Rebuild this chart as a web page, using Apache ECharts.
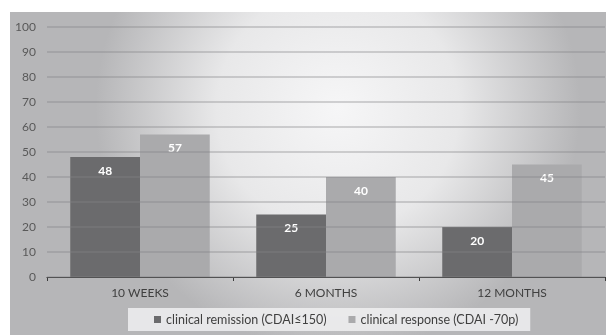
<!DOCTYPE html>
<html>
<head>
<meta charset="utf-8">
<style>
  html, body { margin: 0; padding: 0; background: #ffffff; }
  #chart { width: 606px; height: 335px; }
</style>
<script src="https://cdn.jsdelivr.net/npm/echarts@6/dist/echarts.min.js"></script>
</head>
<body>
<div id="chart"></div>
<script>
// Time points and percentages of patients for each outcome
const categories = ['10 WEEKS', '6 MONTHS', '12 MONTHS'];
const remission = [48, 25, 20];
const response = [57, 40, 45];
const seriesNames = ['clinical remission (CDAI≤150)', 'clinical response (CDAI -70p)'];
const yTicks = { min: 0, max: 100, interval: 10 };

const FONT = 'Lato, "Open Sans", sans-serif';

const chart = echarts.init(document.getElementById('chart'), null, { renderer: 'canvas' });

const barLabel = {
  show: true,
  position: 'insideTop',
  distance: 8,
  color: '#ffffff',
  fontWeight: 'bold',
  fontSize: 12,
  fontFamily: FONT
};

chart.setOption({
  animation: false,
  textStyle: { fontFamily: FONT },
  graphic: [{
    type: 'rect',
    z: -10,
    silent: true,
    shape: { x: 10, y: 12, width: 596, height: 323 },
    style: {
      fill: {
        type: 'radial',
        x: 0.55, y: 0.3, r: 0.75,
        colorStops: [
          { offset: 0, color: '#f6f6f7' },
          { offset: 0.5, color: '#e8e8e9' },
          { offset: 1, color: '#b6b6b8' }
        ]
      }
    }
  }],
  grid: { left: 47, right: 1, top: 27, bottom: 58, containLabel: false },
  legend: {
    data: seriesNames,
    left: 128,
    top: 308,
    width: 380,
    padding: [5, 12, 5, 26],
    backgroundColor: 'rgba(240,240,241,0.85)',
    itemWidth: 7,
    itemHeight: 7,
    itemGap: 22,
    icon: 'rect',
    textStyle: { color: '#404040', fontSize: 12.5, fontFamily: FONT }
  },
  xAxis: {
    type: 'category',
    data: categories,
    axisLine: { lineStyle: { color: '#3a3a3a', width: 1.2 } },
    axisTick: { show: true, alignWithLabel: false, length: 4, lineStyle: { color: '#3a3a3a' } },
    axisLabel: { color: '#404040', fontSize: 12, margin: 10, fontFamily: FONT },
    splitLine: { show: false }
  },
  yAxis: {
    type: 'value',
    min: yTicks.min,
    max: yTicks.max,
    interval: yTicks.interval,
    z: 5,
    axisLine: { show: false },
    axisTick: { show: false },
    axisLabel: { color: '#595959', fontSize: 12, margin: 11, fontFamily: FONT },
    splitLine: { lineStyle: { color: 'rgba(130,130,132,0.45)', width: 1.5 } }
  },
  series: [
    {
      name: seriesNames[0],
      type: 'bar',
      data: remission,
      barGap: '0%',
      barCategoryGap: '25%',
      itemStyle: { color: '#6b6b6d' },
      label: barLabel
    },
    {
      name: seriesNames[1],
      type: 'bar',
      data: response,
      barGap: '0%',
      barCategoryGap: '25%',
      itemStyle: { color: '#aaaaac' },
      label: barLabel
    }
  ]
});
</script>
</body>
</html>
